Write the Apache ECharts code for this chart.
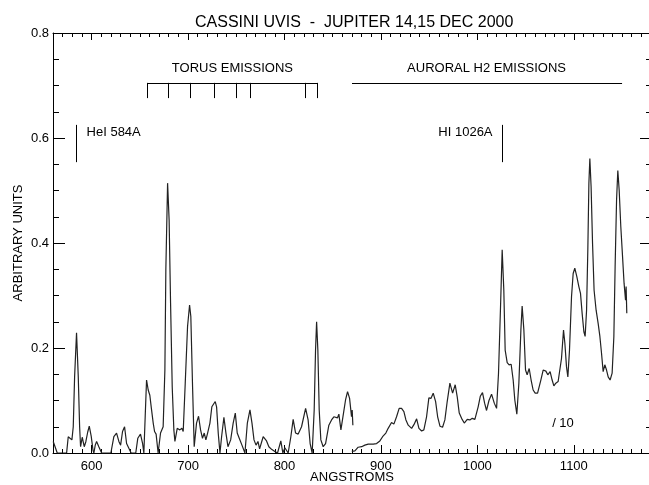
<!DOCTYPE html>
<html>
<head>
<meta charset="utf-8">
<script src="https://cdn.jsdelivr.net/npm/echarts@6/dist/echarts.min.js"></script>
<style>
  html, body { margin: 0; padding: 0; background: #fff; overflow: hidden; }
  #main { width: 649px; height: 485px; }
</style>
</head>
<body>
<div id="main"></div>
<script>
// EUV channel (first piece of the spectrum)
const euvWave = [560.2, 562.5, 564.4, 574.1, 575.8, 577.5, 579.6, 581.0, 582.4, 584.4, 586.2, 587.6, 588.6, 590.3, 592.4, 594.1, 596.0, 597.6, 599.6, 601.5, 602.4, 603.8, 605.2, 607.5, 610.4,
  620.0, 623.1, 625.9, 628.3, 630.1, 632.1, 634.2, 636.3, 637.9, 639.7, 641.0, 645.8, 647.9, 650.7, 652.8, 654.2, 655.6, 657.0, 658.7, 660.4, 662.0, 663.9, 665.3, 666.9, 669.0,
  671.5, 674.2, 676.0, 677.0, 678.8, 680.4, 681.9, 683.6, 685.3, 686.4, 688.8, 691.5, 693.6, 695.0, 697.1, 699.5, 701.6, 702.9, 704.7, 706.4, 708.8, 710.9, 713.0, 715.0,
  716.8, 718.5, 720.3, 722.7, 724.7, 728.2, 729.6, 731.3, 733.1, 734.8, 737.2, 739.3, 741.4, 744.2, 746.8, 749.0, 751.0, 753.1, 755.9, 759.0, 761.5, 764.2, 766.3, 768.4,
  770.5, 772.5, 774.2, 777.9, 781.4, 783.8, 786.6, 790.0, 792.8, 796.2, 798.3, 800.4, 803.8, 806.6, 809.0, 811.5, 814.2, 817.7, 821.9, 824.5, 826.6, 828.7, 830.8, 832.2,
  833.3, 834.6, 836.0, 837.7, 840.1, 842.6, 846.0, 848.8, 851.2, 853.0, 855.0, 856.4, 858.5, 861.2, 863.3, 865.4, 867.5, 869.5, 870.2, 870.9];
const euvFlux = [0.022, 0.010, 0, 0, 0.031, 0.028, 0.025, 0.050, 0.145, 0.229, 0.145, 0.050, 0.012, 0.030, 0.012, 0.022, 0.040, 0.051, 0.032, 0.005, 0, 0.015, 0.022, 0.012, 0,
  0, 0.031, 0.038, 0.022, 0.015, 0.041, 0.050, 0.018, 0.012, 0.015, 0, 0, 0.028, 0.036, 0.019, 0, 0.070, 0.139, 0.120, 0.110, 0.085, 0.057, 0.041, 0.036, 0,
  0.038, 0.050, 0.158, 0.349, 0.514, 0.444, 0.285, 0.126, 0.044, 0.022, 0.047, 0.044, 0.047, 0.041, 0.133, 0.241, 0.282, 0.260, 0.126, 0.012, 0.057, 0.070, 0.044, 0.028,
  0.038, 0.025, 0.038, 0.057, 0.088, 0.098, 0.088, 0.038, 0, 0.031, 0.068, 0.038, 0.012, 0.025, 0.057, 0.076, 0.038, 0.028, 0.015, 0, 0.057, 0.082, 0.057, 0.025,
  0.015, 0.022, 0.008, 0.031, 0.023, 0.012, 0.007, 0.003, 0, 0.023, 0, 0.010, 0, 0.031, 0.064, 0.038, 0.036, 0.050, 0.085, 0.063, 0.018, 0, 0.082, 0.196,
  0.250, 0.196, 0.082, 0.025, 0.012, 0.018, 0.053, 0.063, 0.069, 0.072, 0.067, 0.074, 0.044, 0.076, 0.101, 0.117, 0.104, 0.069, 0.082, 0.053];

// FUV channel (second piece, shown divided by 10)
const fuvWave = [869.8, 873.0, 876.4, 880.0, 883.3, 886.8, 892.0, 895.5, 898.9, 901.7, 905.1, 907.5, 911.0, 913.4, 916.2, 918.9, 921.4, 923.8, 925.9, 928.3, 931.8, 934.2,
  937.0, 939.4, 942.2, 944.5, 947.3, 949.7, 951.8, 954.2, 956.7, 958.8, 961.2, 963.9, 966.3, 968.7, 971.5, 974.3, 977.0, 979.1, 981.2, 983.6, 986.4, 989.5, 992.2, 994.7,
  997.4, 1000.8, 1003.0, 1005.3, 1007.5, 1009.5, 1012.0, 1014.7, 1017.5, 1019.9, 1021.9, 1024.0, 1025.7, 1027.4, 1028.8, 1030.9, 1032.9, 1035.0, 1037.1, 1038.8, 1040.9,
  1043.0, 1045.1, 1046.4, 1048.2, 1049.9, 1051.6, 1053.7, 1055.7, 1057.8, 1059.9, 1062.4, 1064.0, 1065.8, 1068.2, 1071.0, 1073.0, 1075.4, 1077.5, 1079.3, 1081.3, 1083.7,
  1085.5, 1087.2, 1089.3, 1090.7, 1092.4, 1093.8, 1095.5, 1097.6, 1099.3, 1101.0, 1103.1, 1105.2, 1106.9, 1108.6, 1110.4, 1111.7, 1113.2, 1114.5, 1115.6, 1116.6, 1117.9,
  1119.4, 1121.0, 1123.1, 1125.2, 1127.0, 1128.7, 1130.4, 1132.1, 1133.9, 1135.6, 1137.6, 1139.7, 1141.5, 1142.8, 1144.3, 1145.6, 1147.0, 1148.7, 1150.5, 1152.1, 1153.6,
  1154.2, 1154.9];
const fuvFlux = [0.003, 0.004, 0.011, 0.012, 0.015, 0.017, 0.017, 0.018, 0.023, 0.031, 0.038, 0.047, 0.058, 0.055, 0.069, 0.085, 0.085, 0.079, 0.063, 0.053, 0.047, 0.054,
  0.065, 0.047, 0.042, 0.044, 0.069, 0.105, 0.104, 0.114, 0.098, 0.069, 0.051, 0.049, 0.063, 0.098, 0.133, 0.114, 0.130, 0.107, 0.076, 0.066, 0.057, 0.064, 0.063, 0.066,
  0.064, 0.088, 0.108, 0.115, 0.095, 0.081, 0.100, 0.112, 0.095, 0.085, 0.152, 0.279, 0.387, 0.310, 0.196, 0.172, 0.168, 0.169, 0.139, 0.101, 0.074,
  0.133, 0.234, 0.280, 0.234, 0.158, 0.149, 0.161, 0.139, 0.120, 0.114, 0.114, 0.117, 0.139, 0.158, 0.156, 0.149, 0.155, 0.139, 0.128, 0.133, 0.136,
  0.133, 0.180, 0.234, 0.209, 0.164, 0.145, 0.196, 0.298, 0.342, 0.352, 0.336, 0.317, 0.304, 0.266, 0.231, 0.222, 0.272, 0.387, 0.514, 0.561, 0.507,
  0.399, 0.310, 0.272, 0.247, 0.222, 0.190, 0.155, 0.168, 0.158, 0.145, 0.139, 0.152, 0.222, 0.355, 0.482, 0.538, 0.501, 0.431, 0.374, 0.323, 0.291,
  0.317, 0.266];

const xTicks = [600, 700, 800, 900, 1000, 1100];
const yTicks = [0, 0.2, 0.4, 0.6, 0.8];

// annotation marks, in data units
const torusLines = [658, 680, 702, 727, 750, 765, 822, 834];
const auroralSpan = [870, 1150];
const bracketTop = 0.705;
const bracketTick = 0.676;
const lineMarks = [{ name: 'HeI 584A', wave: 584 }, { name: 'HI 1026A', wave: 1026 }];
const lineRange = [0.554, 0.625];

const zip = (a, b) => a.map((v, i) => [v, b[i]]);

const font = 'Liberation Sans, Arial, Helvetica, sans-serif';
const black = '#000';

const markLines = [];
markLines.push([{ coord: [torusLines[0], bracketTop] }, { coord: [torusLines[torusLines.length - 1], bracketTop] }]);
torusLines.forEach(w => markLines.push([{ coord: [w, bracketTop] }, { coord: [w, bracketTick] }]));
markLines.push([{ coord: [auroralSpan[0], bracketTop] }, { coord: [auroralSpan[1], bracketTop] }]);
lineMarks.forEach(m => markLines.push([{ coord: [m.wave, lineRange[0]] }, { coord: [m.wave, lineRange[1]] }]));

const labelPts = [
  { name: 'TORUS EMISSIONS', coord: [746, 0.733], label: { position: 'inside' } },
  { name: 'AURORAL H2 EMISSIONS', coord: [1009.5, 0.733], label: { position: 'inside' } },
  { name: 'HeI 584A', coord: [594.8, 0.611], label: { position: 'right' } },
  { name: 'HI 1026A', coord: [1015.7, 0.611], label: { position: 'left' } },
  { name: '/ 10', coord: [1077.5, 0.056], label: { position: 'right' } }
];

// every axis gets its own copies of the shared bits
const xAxisOf = extra => Object.assign({
  type: 'value', min: 560, max: 1180,
  splitLine: { show: false }
}, extra);
const yAxisOf = extra => Object.assign({
  type: 'value', min: 0, max: 0.8, interval: 0.2,
  splitLine: { show: false }
}, extra);

const option = {
  animation: false,
  textStyle: { fontFamily: font, color: black },
  title: {
    text: 'CASSINI UVIS  -  JUPITER 14,15 DEC 2000',
    left: 190,
    top: 10,
    textStyle: { fontFamily: font, fontSize: 16, fontWeight: 'normal', color: black }
  },
  grid: { left: 53, right: -2, top: 33, bottom: 32, containLabel: false, outerBoundsMode: 'none' },
  xAxis: [
    xAxisOf({
      position: 'bottom',
      name: 'ANGSTROMS', nameLocation: 'middle', nameGap: 18, nameMoveOverlap: false,
      nameTextStyle: { fontFamily: font, fontSize: 13, color: black },
      axisLine: { show: true, onZero: false, lineStyle: { color: black, width: 1 } },
      axisTick: { show: true, inside: true, length: 8, customValues: xTicks, lineStyle: { color: black, width: 1 } },
      axisLabel: { customValues: xTicks, fontFamily: font, fontSize: 13, color: black, margin: 7, formatter: v => String(v) }
    }),
    xAxisOf({
      position: 'bottom', interval: 10,
      axisLine: { show: false, onZero: false },
      axisTick: { show: true, inside: true, length: 4, lineStyle: { color: black, width: 1 } },
      axisLabel: { show: false }
    }),
    xAxisOf({
      position: 'top',
      axisLine: { show: true, onZero: false, lineStyle: { color: black, width: 1 } },
      axisTick: { show: true, inside: true, length: 7, customValues: xTicks, lineStyle: { color: black, width: 1 } },
      axisLabel: { show: false }
    }),
    xAxisOf({
      position: 'top', interval: 10,
      axisLine: { show: false, onZero: false },
      axisTick: { show: true, inside: true, length: 4, lineStyle: { color: black, width: 1 } },
      axisLabel: { show: false }
    })
  ],
  yAxis: [
    yAxisOf({
      position: 'left',
      name: 'ARBITRARY UNITS', nameLocation: 'middle', nameGap: 28, nameMoveOverlap: false,
      nameTextStyle: { fontFamily: font, fontSize: 13, color: black },
      axisLine: { show: true, onZero: false, lineStyle: { color: black, width: 1 } },
      axisTick: { show: true, inside: true, length: 12, lineStyle: { color: black, width: 1 } },
      minorTick: { show: true, splitNumber: 4, length: 6, lineStyle: { color: black, width: 1 } },
      axisLabel: { fontFamily: font, fontSize: 13, color: black, margin: 4, formatter: v => v.toFixed(1) }
    }),
    yAxisOf({
      position: 'right',
      axisLine: { show: true, onZero: false, lineStyle: { color: black, width: 1 } },
      axisTick: { show: true, inside: true, length: 11, lineStyle: { color: black, width: 1 } },
      minorTick: { show: true, splitNumber: 4, length: 5, lineStyle: { color: black, width: 1 } },
      axisLabel: { show: false }
    })
  ],
  series: [
    {
      name: 'EUV', type: 'line', xAxisIndex: 0, yAxisIndex: 0,
      data: zip(euvWave, euvFlux),
      showSymbol: false, symbol: 'none',
      lineStyle: { color: '#222', width: 1.2 },
      markLine: {
        silent: true, symbol: 'none',
        label: { show: false },
        lineStyle: { color: black, width: 1, type: 'solid' },
        data: markLines
      },
      markPoint: {
        silent: true, symbol: 'circle', symbolSize: 0,
        itemStyle: { color: 'rgba(0,0,0,0)' },
        label: { show: true, formatter: '{b}', fontFamily: font, fontSize: 13, color: black, distance: 0 },
        data: labelPts
      }
    },
    {
      name: 'FUV', type: 'line', xAxisIndex: 0, yAxisIndex: 0,
      data: zip(fuvWave, fuvFlux),
      showSymbol: false, symbol: 'none',
      lineStyle: { color: '#222', width: 1.2 }
    }
  ]
};

const chart = echarts.init(document.getElementById('main'));
chart.setOption(option);
</script>
</body>
</html>
